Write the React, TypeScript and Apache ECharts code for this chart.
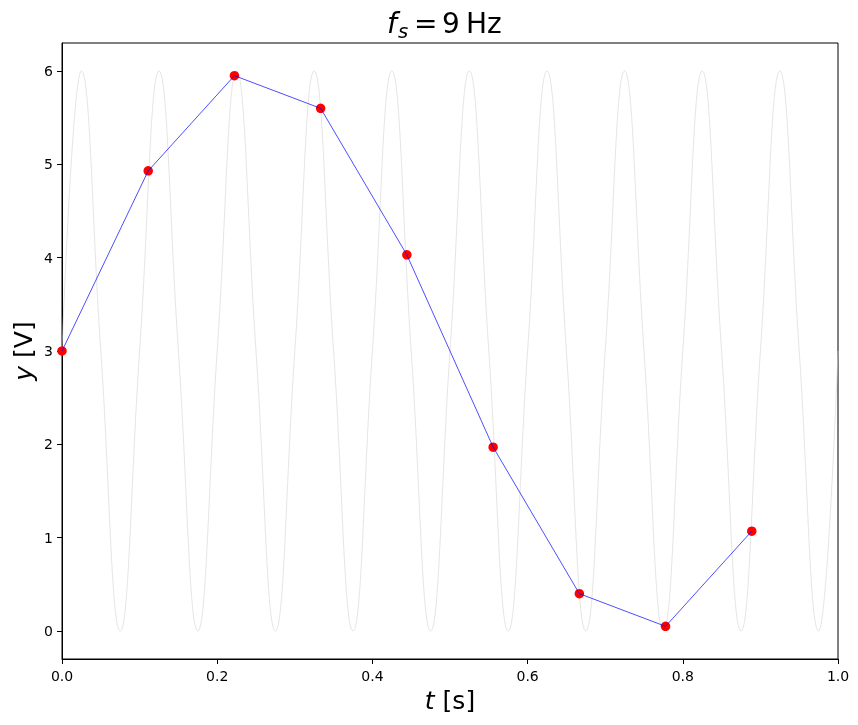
import React, { useEffect, useRef } from "react";
import * as echarts from "echarts";

// Sampled points (red markers, blue line)
const sampleT = [0, 0.1111, 0.2222, 0.3333, 0.4444, 0.5556, 0.6667, 0.7778, 0.8889];
const sampleY = [3.0, 4.93, 5.95, 5.6, 4.03, 1.97, 0.4, 0.05, 1.07];

// Underlying continuous signal (grey), read at peaks, crossings and troughs
const sineT = [
  0, 0.025, 0.05, 0.075, 0.1, 0.125, 0.15, 0.175, 0.2, 0.225,
  0.25, 0.275, 0.3, 0.325, 0.35, 0.375, 0.4, 0.425, 0.45, 0.475,
  0.5, 0.525, 0.55, 0.575, 0.6, 0.625, 0.65, 0.675, 0.7, 0.725,
  0.75, 0.775, 0.8, 0.825, 0.85, 0.875, 0.9, 0.925, 0.95, 0.975, 1.0,
];
const sineY = [
  3, 6, 3, 0, 3, 6, 3, 0, 3, 6,
  3, 0, 3, 6, 3, 0, 3, 6, 3, 0,
  3, 6, 3, 0, 3, 6, 3, 0, 3, 6,
  3, 0, 3, 6, 3, 0, 3, 6, 3, 0, 3,
];

const yTicks = [0, 1, 2, 3, 4, 5, 6];

const FONT = "DejaVu Sans";

export default function App() {
  const ref = useRef<HTMLDivElement>(null);
  useEffect(() => {
    const chart = echarts.init(ref.current!, null, { renderer: "svg" });
    const samples = sampleT.map((t, i) => [t, sampleY[i]]);
    chart.setOption({
      animation: false,
      grid: {
        left: 62,
        top: 43,
        width: 776,
        height: 616,
        show: true,
        borderColor: "#000",
        borderWidth: 1,
        backgroundColor: "transparent",
      },
      xAxis: {
        type: "value",
        min: 0,
        max: 1,
        interval: 0.2,
        axisLine: { show: true, onZero: false, lineStyle: { color: "#000", width: 1 } },
        axisTick: { show: true, inside: false, length: 5, lineStyle: { color: "#000", width: 1 } },
        axisLabel: {
          color: "#000",
          fontSize: 14,
          fontFamily: FONT,
          margin: 10,
          formatter: (v: number) => v.toFixed(1),
        },
        splitLine: { show: false },
      },
      yAxis: {
        type: "value",
        min: -0.3,
        max: 6.3,
        axisLine: { show: true, onZero: false, lineStyle: { color: "#000", width: 1 } },
        axisTick: {
          show: true,
          inside: false,
          length: 5,
          customValues: yTicks,
          lineStyle: { color: "#000", width: 1 },
        },
        axisLabel: {
          color: "#000",
          fontSize: 14,
          fontFamily: FONT,
          margin: 9,
          customValues: yTicks,
          formatter: (v: number) => String(Math.round(v)),
        },
        splitLine: { show: false },
      },
      series: [
        {
          type: "line",
          data: sineT.map((t, i) => [t, sineY[i]]),
          smooth: 0.45,
          symbol: "none",
          showSymbol: false,
          silent: true,
          lineStyle: { color: "#d3d3d3", width: 0.6 },
          z: 1,
        },
        {
          type: "scatter",
          data: samples,
          symbol: "circle",
          symbolSize: 9.5,
          itemStyle: { color: "#ff0000", borderWidth: 0, opacity: 1 },
          z: 2,
        },
        {
          type: "line",
          data: samples,
          symbol: "none",
          showSymbol: false,
          lineStyle: { color: "#0000ff", width: 0.7 },
          z: 3,
        },
      ],
      graphic: [
        {
          type: "text",
          x: 387,
          y: 23,
          style: { text: "f", font: `italic 28px ${FONT}`, fill: "#000", align: "left", verticalAlign: "middle" },
        },
        {
          type: "text",
          x: 398,
          y: 31,
          style: { text: "s", font: `italic 19.6px ${FONT}`, fill: "#000", align: "left", verticalAlign: "middle" },
        },
        {
          type: "text",
          x: 414,
          y: 23,
          style: { text: "=", font: `28px ${FONT}`, fill: "#000", align: "left", verticalAlign: "middle" },
        },
        {
          type: "text",
          x: 442,
          y: 23,
          style: { text: "9", font: `28px ${FONT}`, fill: "#000", align: "left", verticalAlign: "middle" },
        },
        {
          type: "text",
          x: 466,
          y: 23,
          style: { text: "Hz", font: `28px ${FONT}`, fill: "#000", align: "left", verticalAlign: "middle" },
        },
        {
          type: "text",
          x: 450,
          y: 700,
          style: {
            text: "{i|t} [s]",
            fontSize: 25,
            fontFamily: FONT,
            fill: "#000",
            align: "center",
            verticalAlign: "middle",
            rich: { i: { fontStyle: "italic", fontSize: 25, fontFamily: FONT, fill: "#000" } },
          },
        },
        {
          type: "text",
          x: 23,
          y: 351,
          rotation: Math.PI / 2,
          style: {
            text: "{i|y} [V]",
            fontSize: 25,
            fontFamily: FONT,
            fill: "#000",
            align: "center",
            verticalAlign: "middle",
            rich: { i: { fontStyle: "italic", fontSize: 25, fontFamily: FONT, fill: "#000" } },
          },
        },
      ],
    });
    return () => chart.dispose();
  }, []);
  return (
    <div
      ref={ref}
      style={{ position: "fixed", left: 0, top: 0, width: 858, height: 725 }}
    />
  );
}
